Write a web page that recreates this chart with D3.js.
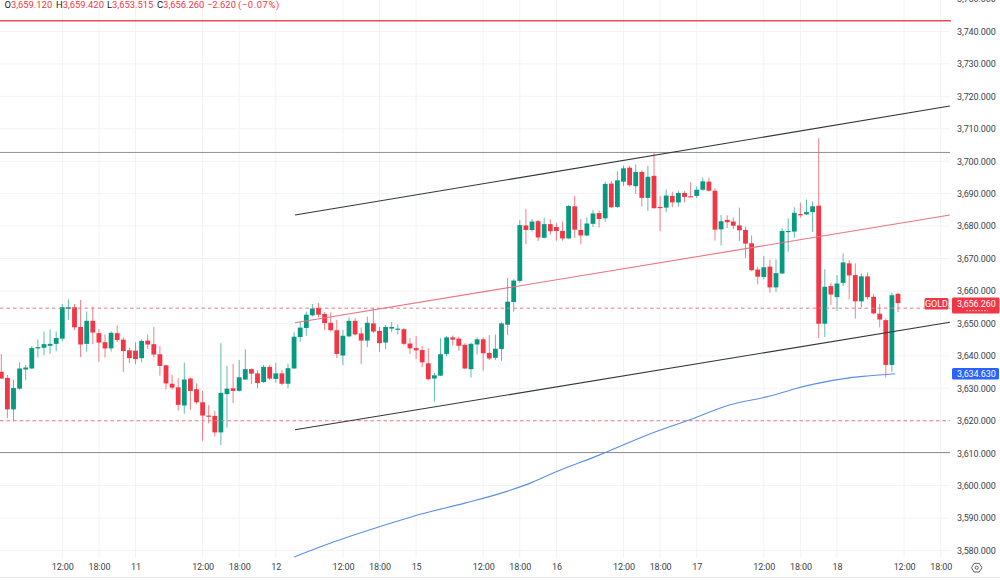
<!DOCTYPE html>
<html>
<head>
<meta charset="utf-8">
<script src="https://cdn.jsdelivr.net/npm/d3@7"></script>
<style>
  html, body { margin: 0; padding: 0; background: #fff; }
  svg { display: block; }
  text { font-family: Roboto, "Liberation Sans", sans-serif; }
</style>
</head>
<body>
<svg id="chart" width="1000" height="580"></svg>
<script>
// [open, high, low, close] per hourly bar
const candles = [
  [3635.1,3640.6,3633.0,3633.0],[3633.2,3634.1,3620.8,3623.5],[3623.5,3632.6,3619.8,3630.1],[3629.9,3638.0,3629.5,3636.1],
  [3635.8,3637.2,3632.6,3636.4],[3636.1,3643.0,3635.9,3642.4],[3642.3,3645.1,3639.5,3642.7],[3642.5,3647.5,3640.2,3643.6],
  [3643.1,3648.2,3640.6,3643.7],[3643.7,3647.5,3641.4,3645.5],[3645.3,3656.0,3644.4,3655.0],[3654.5,3657.4,3651.1,3655.0],
  [3655.0,3656.0,3648.0,3648.8],[3648.9,3657.2,3639.6,3643.5],[3643.7,3653.7,3641.3,3650.8],[3650.8,3655.2,3643.6,3647.2],
  [3647.0,3648.3,3638.2,3644.1],[3644.2,3646.6,3639.5,3642.3],[3642.3,3647.5,3641.3,3647.1],[3647.0,3649.4,3644.3,3644.9],
  [3645.0,3645.7,3635.0,3641.5],[3641.7,3642.5,3637.7,3639.3],[3641.6,3644.2,3637.4,3639.0],[3639.3,3645.1,3638.0,3644.6],
  [3644.7,3646.6,3642.1,3643.5],[3643.6,3648.9,3639.5,3640.4],[3640.5,3643.0,3633.9,3636.9],[3637.1,3637.1,3629.7,3631.5],
  [3631.4,3634.2,3629.6,3630.2],[3630.3,3633.1,3623.1,3624.9],[3624.7,3637.9,3622.2,3632.7],[3633.0,3633.3,3623.4,3629.2],
  [3629.7,3631.5,3625.1,3625.7],[3625.7,3629.2,3613.8,3621.6],[3621.6,3624.8,3619.2,3621.3],[3621.5,3623.0,3615.1,3616.4],
  [3616.4,3643.9,3612.5,3628.6],[3628.2,3636.9,3617.9,3629.9],[3630.0,3637.5,3625.5,3629.2],[3629.2,3638.7,3629.0,3633.4],
  [3632.7,3642.0,3632.6,3635.9],[3635.9,3636.1,3631.3,3634.5],[3634.6,3635.6,3630.0,3631.6],[3631.9,3637.2,3631.7,3636.6],
  [3636.6,3637.3,3632.6,3633.0],[3632.9,3637.9,3631.7,3634.6],[3634.6,3635.6,3631.0,3631.4],[3631.4,3637.6,3630.0,3636.2],
  [3636.1,3647.3,3636.1,3645.9],[3645.8,3650.6,3644.4,3648.7],[3648.6,3653.6,3646.2,3652.7],[3652.5,3656.0,3652.1,3654.6],
  [3654.8,3656.3,3651.9,3652.7],[3652.9,3653.6,3648.0,3650.1],[3650.2,3653.4,3647.5,3647.9],[3647.9,3651.1,3639.4,3640.6],
  [3640.1,3648.0,3637.1,3646.2],[3646.0,3651.9,3645.7,3650.8],[3650.8,3651.7,3646.3,3646.6],[3646.9,3648.7,3637.5,3644.7],
  [3644.7,3652.1,3642.7,3650.2],[3650.0,3654.7,3647.0,3647.5],[3647.7,3649.0,3641.3,3643.9],[3644.1,3649.5,3642.1,3648.9],
  [3648.4,3650.4,3647.3,3648.9],[3648.2,3649.7,3646.6,3648.4],[3648.2,3648.5,3643.3,3643.7],[3643.8,3645.4,3640.6,3642.3],
  [3642.4,3646.1,3639.0,3641.7],[3641.8,3643.0,3636.5,3638.0],[3637.7,3642.3,3632.5,3632.8],[3633.0,3634.8,3625.9,3634.0],
  [3633.9,3645.4,3633.7,3640.5],[3640.6,3646.1,3639.8,3645.7],[3645.7,3646.3,3643.3,3645.0],[3645.3,3645.9,3641.6,3643.1],
  [3643.4,3643.9,3635.9,3636.1],[3635.9,3644.1,3633.3,3643.7],[3643.5,3645.7,3640.4,3645.1],[3645.1,3645.7,3635.4,3640.8],
  [3640.9,3646.4,3638.7,3639.2],[3639.4,3646.6,3638.7,3642.2],[3642.1,3650.4,3638.5,3650.0],[3649.6,3664.0,3646.4,3656.7],
  [3656.6,3663.6,3653.6,3663.2],[3663.1,3681.9,3662.6,3680.3],[3680.2,3685.3,3674.4,3678.8],[3678.8,3682.2,3678.3,3681.4],
  [3681.5,3681.9,3675.4,3676.5],[3676.4,3682.6,3676.2,3680.6],[3680.6,3682.1,3677.3,3678.4],[3679.7,3680.9,3675.5,3678.5],
  [3678.5,3681.4,3675.5,3676.2],[3676.2,3686.5,3676.0,3686.2],[3686.1,3689.3,3676.4,3678.9],[3678.8,3682.2,3674.4,3677.1],
  [3677.1,3682.7,3676.8,3680.8],[3680.7,3685.0,3679.7,3683.9],[3684.0,3684.8,3679.6,3682.2],[3682.4,3693.7,3681.3,3693.0],
  [3693.1,3693.9,3685.6,3685.8],[3685.9,3696.9,3685.6,3694.1],[3693.7,3698.6,3692.4,3697.8],[3698.0,3698.5,3692.2,3692.6],
  [3692.3,3699.0,3690.0,3696.7],[3696.7,3697.1,3686.0,3688.7],[3688.7,3698.6,3684.7,3695.2],[3695.5,3702.6,3685.5,3685.5],
  [3685.9,3689.3,3678.4,3685.7],[3685.7,3691.3,3684.3,3689.4],[3689.3,3690.6,3685.8,3687.3],[3687.3,3690.8,3686.0,3690.2],
  [3690.2,3690.8,3687.3,3689.0],[3689.2,3693.5,3689.0,3689.0],[3689.3,3692.2,3688.6,3691.2],[3691.2,3695.0,3690.9,3693.8],
  [3693.7,3694.9,3690.7,3690.9],[3690.9,3691.6,3675.5,3678.9],[3679.0,3683.4,3674.0,3681.5],[3681.9,3683.3,3679.4,3681.2],
  [3681.4,3682.6,3679.0,3680.1],[3680.2,3685.7,3675.4,3678.7],[3678.8,3679.8,3670.1,3674.6],[3674.7,3677.1,3666.2,3666.4],
  [3666.6,3667.5,3662.0,3664.4],[3664.3,3670.8,3663.6,3667.3],[3667.5,3669.6,3659.5,3661.1],[3661.1,3669.8,3659.7,3665.5],
  [3665.4,3679.3,3665.2,3678.5],[3678.2,3682.4,3672.1,3678.5],[3678.3,3685.8,3676.4,3684.1],[3683.7,3687.2,3682.6,3683.4],
  [3683.6,3688.2,3683.4,3684.3],[3684.3,3687.6,3678.2,3686.1],[3686.3,3707.1,3645.5,3649.9],[3649.9,3666.7,3645.8,3661.3],
  [3661.5,3662.5,3655.7,3658.9],[3658.1,3664.9,3653.9,3662.3],[3662.5,3671.6,3661.5,3668.8],[3668.5,3669.5,3657.4,3664.8],
  [3664.9,3668.5,3651.5,3656.8],[3656.8,3665.4,3654.9,3664.5],[3664.5,3665.7,3657.4,3658.1],[3658.2,3659.1,3652.8,3653.1],
  [3653.0,3656.0,3648.8,3651.2],[3651.0,3651.6,3633.3,3637.2],[3637.2,3659.5,3635.1,3658.7],[3659.12,3659.42,3653.515,3656.26]
];

// moving average, [bar index, price]
const maLine = [
  [48,3578.0],[54,3582.3],[62,3587.3],[69,3591.3],[76,3594.6],[83,3598.3],[87,3601.0],[90,3603.5],[98,3609.4],
  [106,3615.7],[113,3620.4],[119.5,3624.9],[126,3627.6],[130,3629.8],[133,3631.2],[139,3633.2],[142,3633.8],[146.5,3634.5]
];

// drawn channel, each line [bar, price] to [bar, price]
const channelTop = [[48.15,3683.4],[155.5,3717.0]];
const channelMid = [[48.15,3650.2],[155.5,3683.4]];
const channelLow = [[48.15,3617.2],[155.5,3650.35]];

const redLevel = 3743.3;
const greyLevels = [3702.7, 3610.2];
const dashedLevels = [3654.7, 3620];

const priceTicks = d3.range(3580, 3751, 10);
const timeRows = [10,16,22,33,39,45,56,62,68,79,85,91,102,108,114,125,131,137,148,154];
const timeLabels = ["12:00","18:00","11","12:00","18:00","12","12:00","18:00","15","12:00","18:00","16","12:00","18:00","17","12:00","18:00","18","12:00","18:00"];

const legendLetters = ["O","H","L","C"];
const legendValues = ["3,659.120","3,659.420","3,653.515","3,656.260"];
const lastPrice = 3656.26;
const maLast = 3634.63;

const UP = "#089981", DOWN = "#f23645", TEXT = "#3b3f4a";
const plotRight = 950, plotBottom = 558;

const svg = d3.select("#chart");
const x = d3.scaleLinear().domain([0, 154]).range([1.3, 940.7]);
const y = d3.scaleLinear().domain([3580, 3750]).range([550.5, -1]);

// Grid
svg.append("g").selectAll("line").data(priceTicks).enter().append("line")
  .attr("x1", 0).attr("x2", plotRight)
  .attr("y1", d => y(d)).attr("y2", d => y(d))
  .attr("stroke", "#f2f3f5");
svg.append("g").selectAll("line").data(timeRows).enter().append("line")
  .attr("x1", d => x(d)).attr("x2", d => x(d))
  .attr("y1", 0).attr("y2", plotBottom)
  .attr("stroke", "#f2f3f5");

// Bottom border
svg.append("line").attr("x1", 0).attr("x2", 1000).attr("y1", 577.5).attr("y2", 577.5).attr("stroke", "#e8e9ec");

// Candles
const bars = svg.append("g").selectAll("g").data(candles).enter().append("g");
bars.append("line")
  .attr("x1", (d, i) => x(i)).attr("x2", (d, i) => x(i))
  .attr("y1", d => y(d[1])).attr("y2", d => y(d[2]))
  .attr("stroke", d => d[3] >= d[0] ? UP : DOWN)
  .attr("stroke-opacity", 0.65);
bars.append("rect")
  .attr("x", (d, i) => x(i) - 2.4)
  .attr("width", 4.8)
  .attr("y", d => y(Math.max(d[0], d[3])))
  .attr("height", d => Math.max(1.2, Math.abs(y(d[0]) - y(d[3]))))
  .attr("fill", d => d[3] >= d[0] ? UP : DOWN);

// Horizontal levels
svg.append("line")
  .attr("x1", 0).attr("x2", plotRight + 1).attr("y1", y(redLevel)).attr("y2", y(redLevel))
  .attr("stroke", "#ee4a57").attr("stroke-width", 1.6);
svg.append("g").selectAll("line").data(greyLevels).enter().append("line")
  .attr("x1", 0).attr("x2", plotRight).attr("y1", d => y(d)).attr("y2", d => y(d))
  .attr("stroke", "#8f9094").attr("stroke-width", 1);
svg.append("g").selectAll("line").data(dashedLevels).enter().append("line")
  .attr("x1", 0).attr("x2", plotRight).attr("y1", d => y(d)).attr("y2", d => y(d))
  .attr("stroke", "#ea7a85").attr("stroke-width", 1).attr("stroke-dasharray", "3.5 3");

// Channel and moving average
const line = d3.line().x(d => x(d[0])).y(d => y(d[1]));
svg.append("path").attr("d", line(channelTop)).attr("fill", "none").attr("stroke", "#33363c").attr("stroke-width", 1.1);
svg.append("path").attr("d", line(channelMid)).attr("fill", "none").attr("stroke", "#ec7480").attr("stroke-width", 1.1);
svg.append("path").attr("d", line(channelLow)).attr("fill", "none").attr("stroke", "#33363c").attr("stroke-width", 1.1);
svg.append("path").attr("d", d3.line().curve(d3.curveMonotoneX).x(d => x(d[0])).y(d => y(d[1]))(maLine))
  .attr("fill", "none").attr("stroke", "#5b8fe6").attr("stroke-width", 1.1);

// Axes
const yAxis = d3.axisRight(y).tickValues(priceTicks).tickFormat(d3.format(",.3f")).tickSize(0).tickPadding(7);
const yG = svg.append("g").attr("transform", `translate(${plotRight},0)`).call(yAxis);
yG.select(".domain").remove();
yG.selectAll("text").attr("font-size", 9).attr("fill", TEXT).style("font-family", "Roboto").attr("letter-spacing", "-0.1");

const xAxis = d3.axisBottom(x).tickValues(timeRows).tickFormat((d, i) => timeLabels[i]).tickSize(0).tickPadding(6.6);
const xG = svg.append("g").attr("transform", `translate(0,${plotBottom - 1})`).call(xAxis);
xG.select(".domain").remove();
xG.selectAll("text").attr("font-size", 9).attr("fill", TEXT).style("font-family", "Roboto").attr("letter-spacing", "-0.1");

// Legend line
const legend = svg.append("text").attr("y", 8).attr("font-size", 9.4);
const legendX = [4.5, 56, 107, 157];
legendLetters.forEach((letter, i) => {
  legend.append("tspan").attr("x", legendX[i]).attr("fill", "#131722").text(letter);
  legend.append("tspan").attr("fill", DOWN).text(legendValues[i]);
});
legend.append("tspan").attr("x", 207).attr("fill", DOWN).text("\u22122.620");
legend.append("tspan").attr("x", 238).attr("fill", DOWN).attr("letter-spacing", "0.6").text("(\u22120.07%)");

// Price tags
svg.append("rect").attr("x", 924.5).attr("y", 298).attr("width", 24).attr("height", 11.5).attr("rx", 1.5).attr("fill", DOWN);
svg.append("text").attr("x", 936.5).attr("y", 307).attr("text-anchor", "middle")
  .attr("font-size", 9).attr("fill", "#fff").text("GOLD");

svg.append("rect").attr("x", 952).attr("y", 297.5).attr("width", 47.5).attr("height", 16).attr("rx", 1.5).attr("fill", DOWN);
svg.append("text").attr("x", 957).attr("y", 307).attr("font-size", 9).attr("letter-spacing", "-0.1").attr("fill", "#fff")
  .text(d3.format(",.3f")(lastPrice));
svg.append("line").attr("x1", 966).attr("x2", 988).attr("y1", 310.7).attr("y2", 310.7)
  .attr("stroke", "#fff").attr("stroke-opacity", 0.7).attr("stroke-dasharray", "2 1");

svg.append("rect").attr("x", 952).attr("y", 368).attr("width", 47).attr("height", 11.5).attr("rx", 1.5).attr("fill", "#2962ff");
svg.append("text").attr("x", 957).attr("y", 377).attr("font-size", 9).attr("letter-spacing", "-0.1").attr("fill", "#fff")
  .text(d3.format(",.3f")(maLast));

// Settings icon
const hex = d3.range(6).map(k => {
  const a = Math.PI / 3 * k;
  return [976.7 + 5.2 * Math.cos(a), 567.7 + 5 * Math.sin(a)];
});
svg.append("path").attr("d", d3.line().curve(d3.curveLinearClosed)(hex)).attr("fill", "none").attr("stroke", "#4a4e58").attr("stroke-width", 0.9);
svg.append("circle").attr("cx", 976.7).attr("cy", 567.7).attr("r", 1.6).attr("fill", "none").attr("stroke", "#4a4e58").attr("stroke-width", 0.9);
</script>
</body>
</html>
